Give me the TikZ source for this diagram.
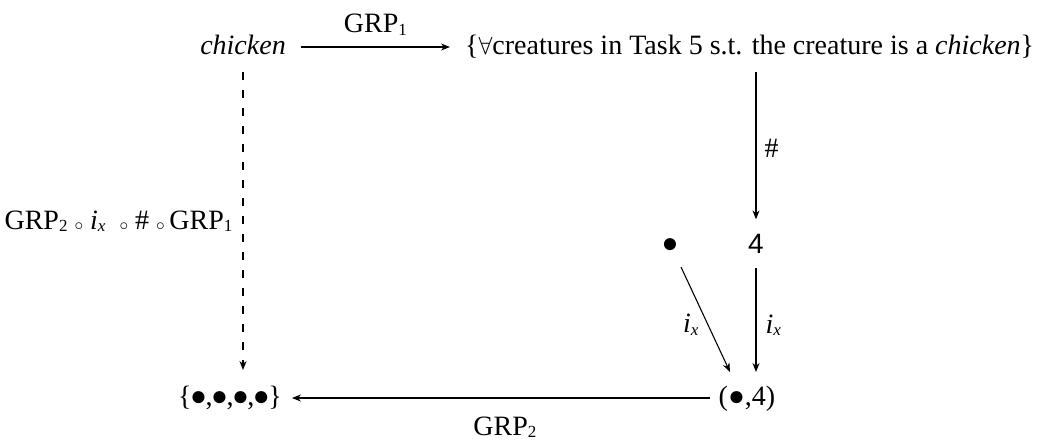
\documentclass[tikz,border=0pt]{standalone}
\usepackage{fontspec}
\setmainfont{Liberation Serif}
\newfontfamily\sansfour{Liberation Sans}
\usetikzlibrary{arrows.meta}
\newcommand\lowsub[1]{\raisebox{-2.5pt}{\fontsize{17}{20}\selectfont #1}}
\newcommand\smallcirc{\raisebox{-1pt}{\fontsize{16}{16}\selectfont$\circ$}}
\newcommand\bdot{\kern-1.5pt●\kern-1.5pt}
\tikzset{
  lbl/.style={inner sep=0pt, font=\fontsize{28}{32}\selectfont},
  arr/.style={line width=1.1pt, -{Stealth[length=9pt,width=7pt]}},
  darr/.style={arr, dash pattern=on 8pt off 10pt},
}
\begin{document}
\begin{tikzpicture}[x=1pt,y=-1pt]
\useasboundingbox (0,0) rectangle (1049,441);
\node[lbl, anchor=base] (chicken) at (243,55) {\textit{chicken}};
\node[lbl, anchor=base west] (set) at (465,55) {\{$\forall$creatures in Task 5 s.t. the creature is a \textit{chicken}\}};
\node[lbl, anchor=base] (four) at (756,253) {\sansfour 4};
\node[lbl] (dot) at (670,246) {●};
\node[lbl, anchor=base] (pair) at (747,405) {(●,4)};
\node[lbl, anchor=base] (bullets) at (230,405) {\{\bdot,\bdot,\bdot,\bdot\}};

\draw[arr] ([shift={(15,-8)}]chicken.base east) -- node[lbl, above=11pt] {GRP\lowsub{1}} ([shift={(-15,-8)}]set.base west);
\draw[arr] ([shift={(0,17)}]set.base -| four.center) -- node[lbl, right=8pt, pos=0.52] {\#} ([shift={(0,-24)}]four.center);
\draw[arr] ([shift={(0,25)}]four.center) -- node[lbl, right=9pt, pos=0.55] {\textit{i}\lowsub{\textit{x}}} ([shift={(0,-33)}]four.center |- pair.base);
\draw[arr] ([shift={(11,21)}]dot.center) -- node[lbl, left=9pt, pos=0.55] {\textit{i}\lowsub{\textit{x}}} ([shift={(-17,-33)}]pair.base);
\draw[arr] ([shift={(-9,-7)}]pair.base west) -- node[lbl, below=18pt, pos=0.49] {GRP\lowsub{2}} ([shift={(10,-7)}]bullets.base east);
\draw[darr] ([shift={(0,17)}]chicken.base) -- node[lbl, left=10pt, pos=0.5] {GRP\lowsub{2}\ \smallcirc\ \textit{i}\lowsub{\textit{x}}\ \ \smallcirc\ \#\ \smallcirc\,GRP\lowsub{1}} ([shift={(0,-35)}]chicken.base |- bullets.base);
\end{tikzpicture}
\end{document}
